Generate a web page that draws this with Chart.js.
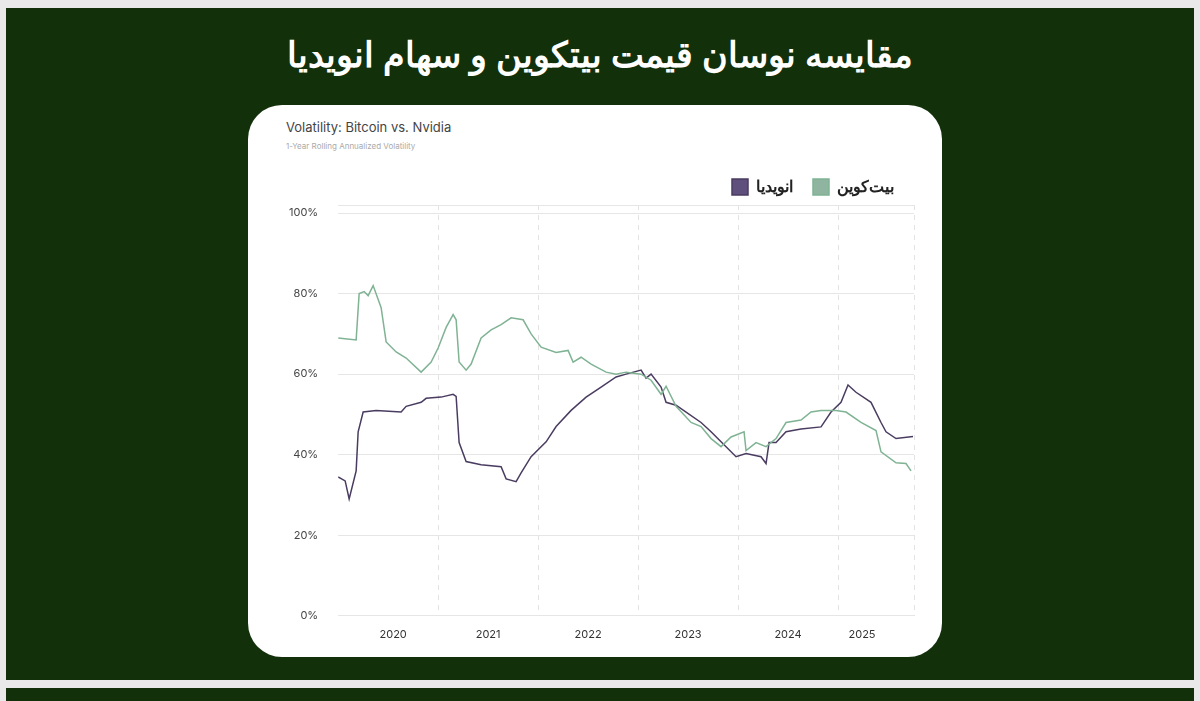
<!DOCTYPE html>
<html><head><meta charset="utf-8">
<script src="https://cdn.jsdelivr.net/npm/chart.js@4"></script>
<style>
  body { margin:0; width:1200px; height:701px; background:#e9e9e9; overflow:hidden; font-family:'Noto Sans',sans-serif; }
  .bg { position:absolute; left:6px; top:8px; width:1188px; height:672px; background:#12300a; }
  .bg2 { position:absolute; left:6px; top:688px; width:1188px; height:20px; background:#12300a; }
  h1 { position:absolute; top:30px; left:0; width:1200px; margin:0; text-align:center; color:#fff; font-size:35px; font-weight:bold; direction:rtl; }
  .card { position:absolute; left:248px; top:105px; width:694px; height:552px; background:#fff; border-radius:34px; }
  .t1 { position:absolute; left:38px; top:14px; font-family:Inter,sans-serif; font-size:13px; color:#444; }
  .t2 { position:absolute; left:38px; top:36px; font-family:Inter,sans-serif; font-size:8px; color:#aaa; }
  .wrap { position:absolute; left:21px; top:54px; width:663px; height:486px; }
</style></head>
<body>
<div class="bg"></div><div class="bg2"></div>
<h1>مقایسه نوسان قیمت بیتکوین و سهام انویدیا</h1>
<div class="card">
  <div class="t1">Volatility: Bitcoin vs. Nvidia</div>
  <div class="t2">1-Year Rolling Annualized Volatility</div>
  <div class="wrap"><canvas id="c"></canvas></div>
</div>
<script>
// year positions (fractional years) and volatility %
const btcX = [2020.00,2020.18,2020.21,2020.26,2020.30,2020.35,2020.43,2020.48,2020.58,2020.68,2020.83,2020.93,2021.00,2021.08,2021.15,2021.18,2021.21,2021.28,2021.33,2021.43,2021.53,2021.63,2021.73,2021.85,2021.93,2022.03,2022.18,2022.30,2022.35,2022.43,2022.53,2022.68,2022.78,2022.88,2023.03,2023.13,2023.23,2023.28,2023.38,2023.53,2023.63,2023.73,2023.83,2023.93,2024.06,2024.08,2024.18,2024.28,2024.38,2024.48,2024.63,2024.73,2024.83,2024.98,2025.08,2025.23,2025.38,2025.43,2025.58,2025.68,2025.73];
const btcY = [69,68.5,80,80.5,79.5,82,76.5,68,65.5,64,60.5,63,66.5,71.6,74.8,73.5,63,61,62.5,69,71,72.3,74,73.5,70,66.7,65.4,65.9,63,64.2,62.5,60.5,60,60.5,60,58.5,55,57,52,48,47,44,42,44.4,45.7,41,43,42,44,48,48.6,50.6,51,51,50.6,48,46,40.7,38,37.8,36];
const nvdX = [2020.00,2020.07,2020.11,2020.18,2020.20,2020.25,2020.38,2020.63,2020.68,2020.83,2020.88,2021.03,2021.15,2021.18,2021.21,2021.28,2021.43,2021.63,2021.68,2021.78,2021.83,2021.93,2022.08,2022.18,2022.33,2022.48,2022.63,2022.78,2022.88,2023.03,2023.08,2023.13,2023.23,2023.28,2023.38,2023.48,2023.63,2023.73,2023.83,2023.98,2024.08,2024.23,2024.28,2024.31,2024.38,2024.48,2024.63,2024.83,2024.93,2025.03,2025.10,2025.18,2025.33,2025.43,2025.48,2025.58,2025.75];
const nvdY = [34.5,33.5,29,36,45.7,50.6,51,50.6,52,53,54,54.3,55,54.5,43,38.3,37.5,37,34,33.3,35.5,39.5,43.2,47,51,54.3,56.8,59.3,60,61,59,60,56.8,53,52.3,50.6,48,45.7,43.2,39.5,40.3,39.5,37.8,43,43,45.7,46.4,46.9,50.6,53,57.3,55.5,53,48,45.7,44,44.5];
const yearLabels = ['2020','2021','2022','2023','2024','2025'];

const pts = (xs, ys) => xs.map((x, i) => ({ x, y: ys[i] }));

new Chart(document.getElementById('c'), {
  type: 'line',
  data: { datasets: [
    { label: 'بیت‌کوین', data: pts(btcX, btcY), borderColor: '#7fb394', backgroundColor: '#8fb5a0', borderWidth: 1.5, pointRadius: 0, tension: 0 },
    { label: 'انویدیا', data: pts(nvdX, nvdY), borderColor: '#4a3c60', backgroundColor: '#5e4f7c', borderWidth: 1.5, pointRadius: 0, tension: 0 },
  ]},
  options: {
    responsive: true, maintainAspectRatio: false, animation: false,
    layout: { padding: { left: 0, right: 18, top: 0, bottom: 0 } },
    plugins: {
      legend: { position: 'top', align: 'end', reverse: true,
        labels: { boxWidth: 16, boxHeight: 16, color: '#222', padding: 20, font: { size: 16, weight: 'bold', family: "'Noto Sans'" } } },
      tooltip: { enabled: false },
    },
    scales: {
      x: { type: 'linear', min: 2020, max: 2025.76,
        afterBuildTicks: s => { s.ticks = [2021,2022,2023,2024,2025,2025.76].map(v => ({ value: v })); },
        ticks: { display: false },
        grid: { color: '#e3e3e3', lineWidth: 1, tickLength: 0 },
        border: { display: false, dash: [5, 5] } },
      x2: { type: 'linear', position: 'bottom', min: 2020, max: 2025.76,
        afterBuildTicks: s => { s.ticks = [2020.55,2021.5,2022.5,2023.5,2024.5,2025.24].map(v => ({ value: v })); },
        ticks: { color: '#333', font: { size: 11, family: 'Inter' }, padding: 4,
          callback: (v, i) => yearLabels[i] },
        grid: { display: false }, border: { display: false } },
      y: { min: 0, max: 102,
        afterBuildTicks: s => { s.ticks = [0,20,40,60,80,100,102].map(v => ({ value: v })); },
        ticks: { color: '#444', font: { size: 11, family: 'Inter' }, padding: 20,
          callback: v => v === 102 ? '' : v + '%' },
        grid: { color: '#e6e6e6', tickLength: 0 }, border: { display: false } },
    },
  },
});
</script>
</body></html>
